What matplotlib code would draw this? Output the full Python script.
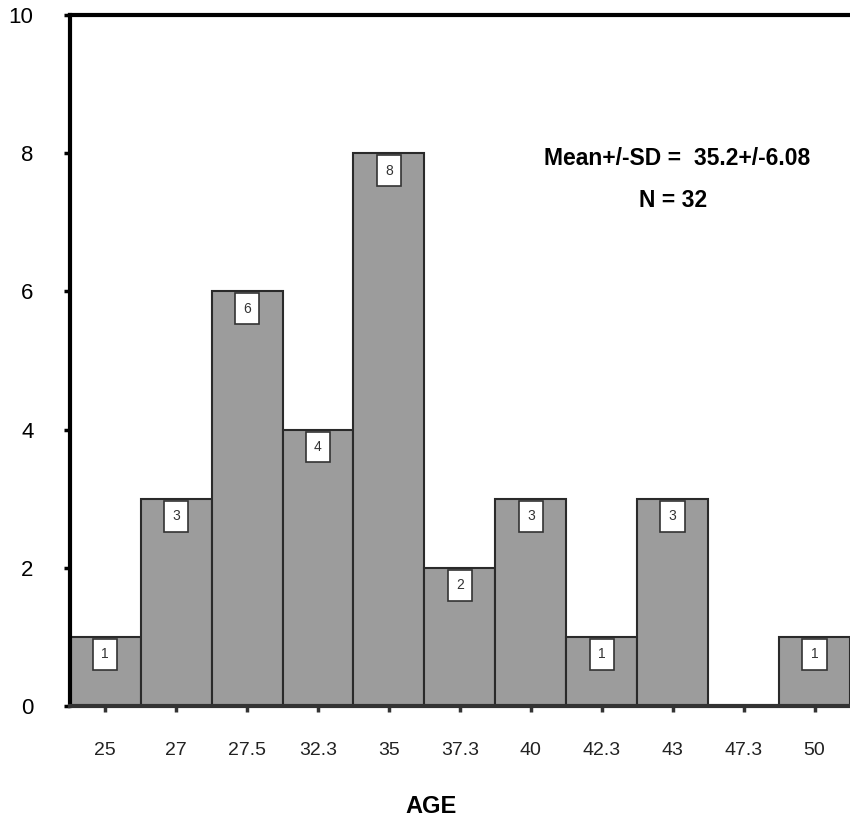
import matplotlib
matplotlib.use("Agg")
from matplotlib import pyplot as plt

plt.rcParams["font.family"] = ["Liberation Sans", "DejaVu Sans"]

# 데이터
ages = ['25', '27', '27.5', '32.3', '35', '37.3', '40', '42.3', '43', '47.3', '50']
counts = [1, 3, 6, 4, 8, 2, 3, 1, 3, 0, 1]

fig = plt.figure(figsize=(8.5, 8.27), dpi=100)
ax = fig.add_axes([0.082, 0.146, 0.918, 0.836])

x = list(range(len(ages)))
ax.bar(x, counts, width=1.0, color='#9c9c9c', edgecolor='#2a2a2a', linewidth=1.5)

# 막대 위 값 표시 (흰 상자)
for xi, c in zip(x, counts):
    if c > 0:
        ax.text(xi, c - 0.15, str(c), ha='center', va='top', fontsize=10,
                color='#333333',
                bbox=dict(boxstyle='square,pad=0.6', facecolor='white',
                          edgecolor='#333333', linewidth=1.2))

ax.set_xlim(-0.5, 10.5)
ax.set_ylim(0, 10)
ax.set_xticks(x)
ax.set_xticklabels(ages, fontsize=14, color='#222222')
ax.set_yticks([0, 2, 4, 6, 8, 10])
ax.set_yticklabels(['0', '2', '4', '6', '8', '10'], fontsize=16)
ax.tick_params(axis='x', length=4, width=2.5, pad=22, color='#333333')
ax.tick_params(axis='y', length=4, width=2.5, pad=22)

for s in ['top', 'left']:
    ax.spines[s].set_linewidth(3)
    ax.spines[s].set_color('black')
ax.spines['bottom'].set_linewidth(3)
ax.spines['bottom'].set_color('#333333')
ax.spines['right'].set_visible(False)

ax.text(0.778, 0.793, 'Mean+/-SD =  35.2+/-6.08', transform=ax.transAxes,
        ha='center', va='center', fontsize=16.5, fontweight='bold')
ax.text(0.773, 0.732, 'N = 32', transform=ax.transAxes,
        ha='center', va='center', fontsize=16.5, fontweight='bold')

ax.set_xlabel('AGE', fontsize=17, fontweight='bold', labelpad=28)
ax.xaxis.set_label_coords(0.463, -0.128)

fig.savefig('out.png', dpi=100)
plt.close(fig)
